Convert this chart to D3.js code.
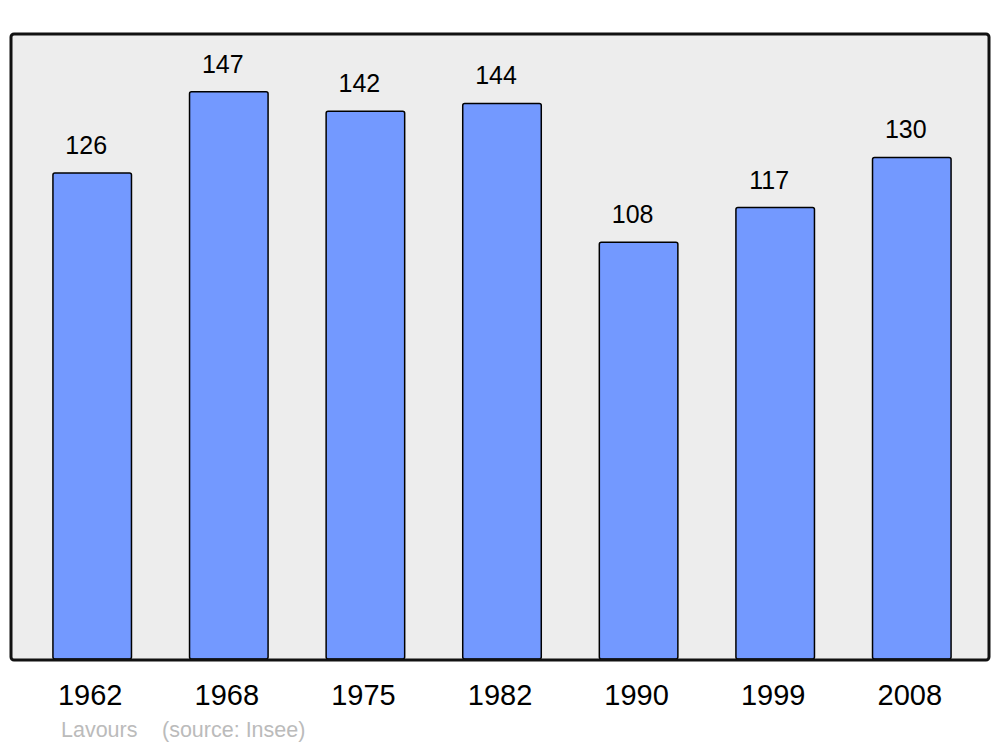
<!DOCTYPE html>
<html><head><meta charset="utf-8">
<script src="https://cdn.jsdelivr.net/npm/d3@7"></script>
<style>body{margin:0;background:#fff}svg{display:block}</style>
</head><body>
<script>
const years = ["1962","1968","1975","1982","1990","1999","2008"];
const values = [126,147,142,144,108,117,130];
const place = "Lavours";
const source = "(source: Insee)";

const W = 1000, H = 747;
const svg = d3.select("body").append("svg").attr("width", W).attr("height", H);
const frame = {x0: 11, y0: 34, x1: 989, y1: 660};

svg.append("rect").attr("x", frame.x0).attr("y", frame.y0)
  .attr("width", frame.x1 - frame.x0).attr("height", frame.y1 - frame.y0)
  .attr("rx", 3).attr("fill", "#ededed");

const x = d3.scaleBand().domain(years).range([11, 993]).paddingInner(0.425).paddingOuter(0.307);
const y = d3.scaleLinear().domain([0, 162]).range([659, 34]);

svg.selectAll("rect.bar").data(values).enter().append("rect").attr("class","bar")
  .attr("x", (d,i) => x(years[i]))
  .attr("y", d => y(d))
  .attr("width", x.bandwidth())
  .attr("height", d => y(0) - y(d))
  .attr("rx", 2)
  .attr("fill", "#7399ff").attr("stroke", "#000").attr("stroke-width", 1.5);

svg.selectAll("text.val").data(values).enter().append("text").attr("class","val")
  .attr("x", (d,i) => x(years[i]) + x.bandwidth()/2 - 6)
  .attr("y", d => y(d) - 19)
  .attr("text-anchor", "middle")
  .attr("font-family", "Liberation Sans, Arial, sans-serif")
  .attr("font-size", 25).attr("fill", "#000")
  .text(d => d);

svg.append("rect").attr("x", frame.x0).attr("y", frame.y0)
  .attr("width", frame.x1 - frame.x0).attr("height", frame.y1 - frame.y0)
  .attr("rx", 3).attr("fill", "none").attr("stroke", "#111").attr("stroke-width", 3);

const xAxis = svg.append("g").attr("transform", `translate(0,${frame.y1})`)
  .call(d3.axisBottom(x).tickSize(0).tickPadding(0));
xAxis.select(".domain").remove();
xAxis.selectAll("text")
  .attr("dx", -2).attr("y", 45).attr("dy", 0)
  .attr("font-family", "Liberation Sans, Arial, sans-serif")
  .attr("font-size", 29).attr("fill", "#000");

svg.append("text").attr("x", 61).attr("y", 737)
  .attr("font-family", "Liberation Sans, Arial, sans-serif")
  .attr("font-size", 21.5).attr("fill", "#bbbbbb").text(place);
svg.append("text").attr("x", 162).attr("y", 737)
  .attr("font-family", "Liberation Sans, Arial, sans-serif")
  .attr("font-size", 21.5).attr("fill", "#bbbbbb").text(source);
</script>
</body></html>
